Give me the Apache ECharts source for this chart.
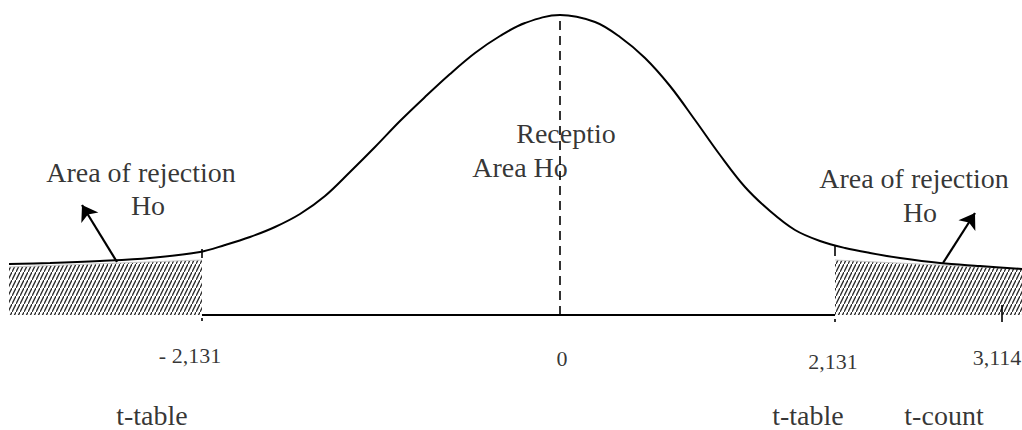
<!DOCTYPE html>
<html>
<head>
<meta charset="utf-8">
<script src="https://cdn.jsdelivr.net/npm/echarts@6/dist/echarts.min.js"></script>
<style>html,body{margin:0;padding:0;background:#fff}#c{width:1022px;height:430px}</style>
</head>
<body>
<div id="c"></div>
<script>
// Curve of the t-distribution as drawn (position along the drawing, height above the baseline)
const curveX = [9,50,100,150,200,225,250,275,300,325,350,375,400,425,450,475,500,525,560,595,620,645,670,695,720,745,770,795,820,845,870,900,940,980,1022];
const curveY = [51,52,54,57,63,70,78,88,101,119,143,168,194,218,241,262,279,292,300,293,278,257,229,195,160,128,104,85,74,67,62,57,52,49,46];

// critical values and their positions on the drawing
const tickLabels = ['- 2,131', '0', '2,131', '3,114'];
const tickPos = [202, 560, 835, 1002];
const tickNames = ['t-table', 't-table', 't-count'];

// rejection regions (start/end along the drawing, height of top edge)
const leftRegion = [[9, 48], [202, 55]];
const rightRegion = [[835, 55], [1022, 46]];

const FONT = '"Liberation Serif", "DejaVu Serif", serif';

function hatch() {
  const c = document.createElement('canvas');
  c.width = 4; c.height = 8;
  const g = c.getContext('2d');
  g.fillStyle = '#fff'; g.fillRect(0, 0, 4, 8);
  g.strokeStyle = '#2a2a2a'; g.lineWidth = 1.3;
  g.beginPath(); g.moveTo(-1, 10); g.lineTo(5, -2); g.stroke();
  return c;
}
const pattern = { image: hatch(), repeat: 'repeat' };

const curve = curveX.map((x, i) => [x, curveY[i]]);

// annotation text items: [text, x, y, fontSize]
const texts = [
  ['Area of rejection', 141, 143, 28],
  ['Ho', 148, 110, 28],
  ['Area of rejection', 914, 137, 28],
  ['Ho', 920, 103, 28],
  ['Receptio', 566, 182, 28],
  ['Area Ho', 520, 148, 28],
  [tickLabels[0], 190, -40, 22],
  [tickLabels[1], tickPos[1] + 2, -43, 22],
  [tickLabels[2], 833, -46, 22],
  [tickLabels[3], 997, -42, 22],
  [tickNames[0], 152, -100, 28],
  [tickNames[1], 808, -100, 28],
  [tickNames[2], 944, -100, 28]
];

const chart = echarts.init(document.getElementById('c'), null, { renderer: 'svg' });
chart.setOption({
  animation: false,
  grid: { left: 0, right: 0, top: 0, bottom: 0 },
  xAxis: { type: 'value', min: 0, max: 1022, show: false },
  yAxis: { type: 'value', min: -115, max: 315, show: false },
  series: [
    { type: 'line', data: leftRegion, symbol: 'none', lineStyle: { color: '#c8c8c8', width: 1 }, areaStyle: { color: pattern, opacity: 1 }, z: 1 },
    { type: 'line', data: rightRegion, symbol: 'none', lineStyle: { color: '#c8c8c8', width: 1 }, areaStyle: { color: pattern, opacity: 1 }, z: 1 },
    { type: 'line', data: [[tickPos[0], 0], [tickPos[2], 0]], symbol: 'none', lineStyle: { color: '#000', width: 2 }, z: 3 },
    { type: 'line', data: curve, smooth: 0.35, symbol: 'none', lineStyle: { color: '#000', width: 2 }, z: 4 },
    { type: 'line', data: [[tickPos[1], 0], [tickPos[1], 300]], symbol: 'none', lineStyle: { color: '#000', width: 1.6, type: [9, 6] }, z: 3 },
    { type: 'lines', coordinateSystem: 'cartesian2d', z: 5,
      lineStyle: { color: '#000', width: 1.6, opacity: 1 }, symbol: 'none',
      data: [
        { coords: [[tickPos[0], 66], [tickPos[0], 57]] },
        { coords: [[tickPos[0], -3], [tickPos[0], -6]] },
        { coords: [[tickPos[2], 70], [tickPos[2], 59]] },
        { coords: [[tickPos[2], -4], [tickPos[2], -7]] },
        { coords: [[tickPos[3], 10], [tickPos[3], -7]] }
      ] },
    { type: 'lines', coordinateSystem: 'cartesian2d', z: 5,
      lineStyle: { color: '#000', width: 2.2, opacity: 1 }, symbol: ['none', 'arrow'], symbolSize: 15,
      data: [
        { coords: [[117, 53], [82, 110]] },
        { coords: [[943, 52], [975, 102]] }
      ] },
    { type: 'scatter', symbolSize: 0, z: 6,
      data: texts.map(t => ({ name: t[0], value: [t[1], t[2]], label: { fontSize: t[3], lineHeight: t[3] - 4 } })),
      label: { show: true, position: 'inside', formatter: p => p.name, color: '#000', fontFamily: FONT } }
  ]
});
</script>
</body>
</html>
